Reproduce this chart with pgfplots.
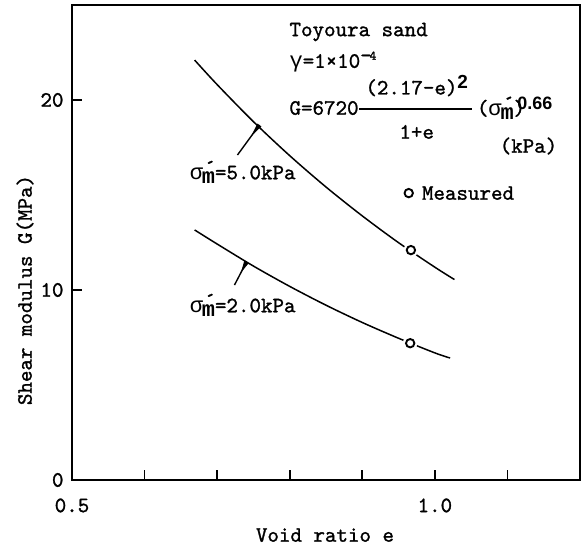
\documentclass[border=0pt]{standalone}
\usepackage{pgfplots}
\pgfplotsset{compat=1.18}
\usepackage{fontspec}
\setmonofont{lmmono10-regular.otf}[FakeBold=1.2]
\newfontfamily\gk{Liberation Mono}
\newfontfamily\bsans{Liberation Sans}
\newcommand{\sm}{{\gk σ}\kern-0.05em\raisebox{-0.45ex}{\makebox[0pt][l]{\raisebox{0.95ex}{\kern0.12em ´}}{\gk\bfseries m}}}
\begin{document}
\ttfamily\fontsize{22}{26}\selectfont
\begin{tikzpicture}
\begin{axis}[
  scale only axis, width=508bp, height=475bp,
  xmin=0.5, xmax=1.2, ymin=0, ymax=25,
  axis line style={line width=2pt},
  xtick={0.5,0.6,0.7,0.8,0.9,1.0,1.1},
  xticklabels={0.5,,,,,1.0,},
  ytick={0,10,20},
  xtick pos=bottom, ytick pos=left,
  tick align=inside,
  major tick length=10bp,
  every tick/.style={line width=1.6pt, black},
  /pgf/number format/assume math mode=true,
  ticklabel style={font=\ttfamily\fontsize{22}{26}\selectfont},
  xticklabel style={yshift=-11bp},
  yticklabel style={xshift=-1bp},
  xlabel={Void ratio e}, ylabel={Shear modulus G(MPa)},
  label style={font=\ttfamily\fontsize{22}{26}\selectfont},
  xlabel style={at={(axis description cs:0.498,-0.116)}, anchor=center},
  ylabel style={at={(axis description cs:-0.0925,0.40)}, anchor=center},
  clip=false,
]
\coordinate (bl) at (rel axis cs:0,0);
\coordinate (tr) at (rel axis cs:1,1);
% upper curve, sigma'_m = 5.0 kPa
\addplot[black, line width=1.5pt, smooth] coordinates {
 (0.669,22.10) (0.70,20.81) (0.75,18.86) (0.80,17.07) (0.85,15.42)
 (0.90,13.90) (0.95,12.49) (1.00,11.20) (1.027,10.55)};
% lower curve, sigma'_m = 2.0 kPa
\addplot[black, line width=1.5pt, smooth] coordinates {
 (0.669,13.16) (0.70,12.42) (0.75,11.26) (0.80,10.19) (0.85,9.20)
 (0.90,8.29) (0.95,7.46) (1.00,6.69) (1.021,6.42)};
% measured points: white halo then circle
\addplot[only marks, mark=*, mark size=7bp, white] coordinates {(0.967,12.1) (0.966,7.2)};
\addplot[only marks, mark=o, mark size=4.2bp, line width=1.9pt, black, mark options={fill=white}] coordinates {(0.967,12.1) (0.966,7.2) (0.964,15.1)};
% pointers
\draw[line width=1.4pt] (axis cs:0.728,17.105) -- (axis cs:0.7582,18.684);
\fill (axis cs:0.761,18.61) -- (axis cs:0.7555,18.76) -- (axis cs:0.7468,18.09) -- cycle;
\draw[line width=1.4pt] (axis cs:0.7239,10.263) -- (axis cs:0.7404,11.474);
\fill (axis cs:0.7434,11.41) -- (axis cs:0.7374,11.537) -- (axis cs:0.7327,10.91) -- cycle;
% labels
\node[anchor=west, inner sep=0] at (axis cs:0.662,16.2) {\sm=5.0kPa};
\node[anchor=west, inner sep=0] at (axis cs:0.662,9.2) {\sm=2.0kPa};
\node[anchor=west, inner sep=0] at (axis cs:0.7995,23.58) {Toyoura sand};
\node[anchor=west, inner sep=0] at (axis cs:0.7995,22.0) {{\gk γ}=1×10\raisebox{0.6ex}{-\kern-0.1em\raisebox{0.25ex}{\fontsize{13}{15}\selectfont 4}}};
\node[anchor=west, inner sep=0] at (axis cs:0.7995,19.58) {G=6720};
\node[inner sep=0] at (axis cs:0.975,20.74) {(2.17-e)\raisebox{0.6ex}{\bsans\bfseries\fontsize{19}{22}\selectfont 2}};
\draw[line width=1.2pt] (axis cs:0.8956,19.53) -- (axis cs:1.0508,19.53);
\node[inner sep=0] at (axis cs:0.975,18.32) {1+e};
\node[anchor=west, inner sep=0] at (axis cs:1.0577,19.58) {(\sm)\kern-0.35em\raisebox{0.55ex}{\bsans\bfseries\fontsize{18}{21}\selectfont 0.66}};
\node[inner sep=0] at (axis cs:1.129,17.58) {(kPa)};
\node[anchor=west, inner sep=0] at (axis cs:0.982,15.1) {Measured};
\end{axis}
\pgfresetboundingbox
\path[use as bounding box] ([shift={(-72bp,-69bp)}]bl) rectangle ([shift={(1bp,5bp)}]tr);
\end{tikzpicture}
\end{document}
